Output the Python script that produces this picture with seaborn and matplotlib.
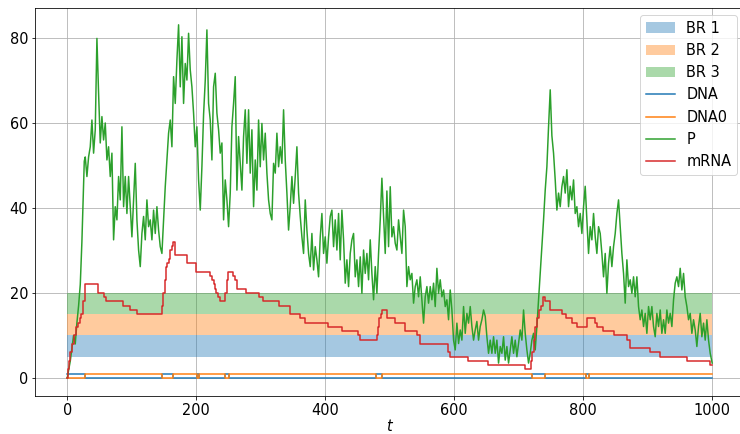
import numpy as np
import pandas as pd
import matplotlib
matplotlib.use("Agg")
import matplotlib.pyplot as plt
import seaborn as sns

# ---- Basal-range bands (lower, upper) ----
band_labels = ["BR 1", "BR 2", "BR 3"]
band_lower = [5, 10, 15]
band_upper = [10, 15, 20]
band_t = [0, 1000]

# ---- Gene state (free DNA vs. repressed DNA0), piecewise constant ----
t_dna = [0, 28, 147, 164, 201, 204, 245, 251, 479, 488, 721, 740, 805, 809, 1000]
dna = [1, 0, 1, 0, 1, 0, 1, 0, 1, 0, 1, 0, 1, 0, 0]
dna0 = [0, 1, 0, 1, 0, 1, 0, 1, 0, 1, 0, 1, 0, 1, 1]

# ---- mRNA copy number, piecewise constant ----
t_mrna = [0, 1, 3, 5, 8, 10, 14, 16, 20, 22, 25, 28, 47, 57, 60, 86, 98, 108,
          147, 149, 151, 153, 155, 158, 160, 162, 164, 167, 185, 199, 221, 224,
          227, 229, 231, 234, 237, 245, 247, 249, 257, 260, 263, 277, 297, 304,
          328, 346, 361, 369, 405, 426, 451, 454, 480, 482, 484, 486, 488, 496,
          508, 524, 542, 547, 591, 594, 622, 653, 710, 719, 721, 723, 725, 728,
          731, 734, 737, 741, 749, 767, 774, 782, 790, 806, 819, 822, 831, 847,
          868, 873, 904, 919, 961, 997, 1000]
mrna = [0, 2, 4, 6, 8, 10, 12, 13, 14, 15, 18, 22, 20, 19, 18, 17, 16, 15,
        17, 20, 23, 26, 27, 28, 30, 31, 32, 29, 27, 25, 24, 23,
        22, 21, 20, 19, 18, 20, 23, 25, 24, 23, 21, 20, 19, 18,
        17, 15, 14, 13, 12, 11, 10, 9, 10, 12, 14, 15, 16, 14,
        13, 11, 10, 8, 6, 5, 4, 3, 2, 4, 6, 9, 12, 14,
        16, 17, 19, 18, 16, 15, 14, 13, 12, 14, 13, 12, 11, 10,
        9, 7, 6, 5, 4, 3, 3]

# ---- Protein copy number ----
# irregularly sampled start-up phase
t_p_start = [0, 4.7, 7.2, 9.8, 12.4, 15.0, 17.6, 20.2, 22.7, 24.3, 26.4, 27.9]
p_start = [0, 4, 7, 10, 8, 13, 17, 22, 32, 40, 51, 52]
# regularly sampled remainder (first sample time and sampling step)
p_t0 = 30.5
p_dt = 2.584
p_rest = [
    47.4, 52.0, 54.4, 60.7, 52.9, 58.4, 79.9, 67.0, 55.3, 61.5, 56.0, 60.0,
    51.3, 54.4, 47.4, 52.9, 32.5, 40.3, 37.2, 47.4, 41.9, 59.1, 40.3, 47.4,
    38.7, 47.4, 40.3, 33.2, 41.9, 50.5, 37.2, 30.1, 26.2, 34.0, 38.0, 32.5,
    41.9, 35.6, 37.2, 32.5, 39.5, 34.0, 40.3, 34.8, 30.9, 29.3, 37.2, 45.0,
    51.3, 57.6, 60.7, 54.4, 70.9, 64.6, 74.8, 83.1, 68.5, 80.3, 64.6, 74.0,
    70.1, 81.1, 72.5, 68.5, 62.3, 54.4, 59.1, 46.6, 39.5, 49.7, 62.0, 70.0,
    81.9, 64.6, 60.7, 51.3, 68.5, 71.7, 62.3, 58.4, 52.9, 55.3, 37.2, 46.6,
    41.9, 35.6, 43.5,
    59.1, 64.6, 70.9, 44.2, 56.8, 50.5, 44.2, 56.8, 63.1, 50.5, 63.1, 48.2,
    58.4, 40.3, 51.3, 44.2, 60.7, 49.7, 59.9, 51.3, 57.6, 48.2, 41.9, 38.7,
    37.2, 50.5, 48.2, 57.6, 49.7, 54.4, 50.5, 63.1, 51.3, 43.5, 34.8, 40.3,
    47.4, 41.1, 47.4, 54.4, 43.5, 38.0, 33.2, 29.3, 41.9, 34.8, 29.3, 26.2,
    34.0, 25.4, 30.9, 27.8, 23.8, 33.2, 38.7, 29.3, 33.2, 27.0, 33.2, 38.0,
    39.5, 30.9, 37.2, 30.1, 38.7, 27.8, 39.5, 32.5, 22.3, 27.8, 21.5, 29.3,
    32.5, 34.0, 23.8, 27.8, 21.5, 28.5, 19.9, 30.1, 24.6, 29.3, 23.1, 32.5,
    24.6, 18.4, 26.2, 19.9, 29.3, 37.2, 47.0, 38.0, 29.3, 44.0, 30.9, 45.0,
    33.2, 35.6, 31.7,
    30.1, 37.2, 33.2, 29.3, 39.5, 35.6, 21.5, 26.2, 23.1, 24.6, 17.6, 21.5,
    23.1, 19.1, 23.8, 18.4, 12.9, 19.1, 21.5, 17.6, 21.5, 18.4, 22.3, 16.8,
    25.8, 19.9, 23.1, 19.1, 20.7, 16.8, 18.4, 13.7, 20.7, 16.0, 8.9, 6.6,
    12.9, 8.1, 11.3, 8.9, 16.8, 10.5, 15.2, 12.9, 16.8, 12.1, 8.9, 11.3,
    13.3, 8.9, 12.1, 13.7, 16.0, 14.5, 9.7, 5.8, 8.9, 5.8, 9.7, 5.8,
    8.9, 3.5, 7.4, 5.8, 9.7, 4.2, 7.4, 3.5, 6.6, 9.7, 5.8, 8.9,
    5.0, 8.1, 11.3, 8.9, 16.0, 10.5, 6.6, 3.5, 5.8, 8.9, 10.5, 6.6,
    12.1, 18.4, 24.6, 30.9, 37.2, 44.2, 49.7, 59.1, 67.8, 57.0, 52.9, 46.6,
    39.5, 43.5, 40.3,
    45.0, 47.4, 43.5, 49.0, 40.3, 45.1, 41.9, 46.6, 38.7, 40.3, 35.6, 38.7,
    34.0, 40.3, 45.1, 37.2, 29.3, 35.6, 32.5, 38.7, 33.2, 29.3, 35.6, 34.0,
    29.3, 23.8, 29.3, 19.9, 27.0, 30.9, 26.2, 30.9, 34.0, 38.7, 41.9, 35.6,
    29.3, 24.6, 17.6, 27.8, 21.5, 23.1, 19.9, 23.8, 19.1, 23.8, 16.8, 13.7,
    16.0, 12.1, 15.2, 10.5, 16.8, 13.7, 16.8, 12.1, 9.7, 15.2, 12.1, 16.0,
    10.5, 13.7, 10.5, 16.0, 12.9, 15.2, 12.1, 18.4, 22.3, 23.8, 21.5, 25.8,
    20.7, 24.6, 19.1, 16.8, 13.7, 15.2, 10.5, 13.7, 11.3, 7.4, 12.1, 15.2,
    9.7, 12.9, 8.9, 13.7, 8.9, 5.8, 3.5,
]

t_p_rest = p_t0 + p_dt * np.arange(len(p_rest))
t_p_rest[-1] = 1000.0
protein = pd.DataFrame({
    "t": np.concatenate([t_p_start, t_p_rest]),
    "P": np.concatenate([p_start, p_rest]),
})

colors = sns.color_palette("tab10")
plt.rcParams["font.size"] = 14.5

DPI = 72
fig, ax = plt.subplots(figsize=(740 / DPI, 434 / DPI), dpi=DPI)
fig.subplots_adjust(left=0.0473, right=1.006, top=0.9825, bottom=0.0885)

for lab, lo, hi, c in zip(band_labels, band_lower, band_upper, colors):
    ax.fill_between(band_t, lo, hi, color=c, alpha=0.4, linewidth=0, label=lab)

sns.lineplot(x=t_dna, y=dna, ax=ax, color=colors[0], label="DNA",
             drawstyle="steps-post", estimator=None, sort=False, linewidth=1.5)
sns.lineplot(x=t_dna, y=dna0, ax=ax, color=colors[1], label="DNA0",
             drawstyle="steps-post", estimator=None, sort=False, linewidth=1.5)
sns.lineplot(data=protein, x="t", y="P", ax=ax, color=colors[2], label="P",
             estimator=None, sort=False, linewidth=1.5)
sns.lineplot(x=t_mrna, y=mrna, ax=ax, color=colors[3], label="mRNA",
             drawstyle="steps-post", estimator=None, sort=False, linewidth=1.5)

ax.set_xlim(-50, 1050)
ax.set_ylim(-4.15, 87.15)
ax.set_xticks([0, 200, 400, 600, 800, 1000])
ax.set_yticks([0, 20, 40, 60, 80])
ax.set_xlabel("$t$", labelpad=0)
ax.set_ylabel("")
ax.grid(True, color="#b0b0b0", linewidth=0.8)
ax.set_axisbelow(True)
ax.legend(loc="upper right")

fig.savefig("out.png", dpi=DPI)
